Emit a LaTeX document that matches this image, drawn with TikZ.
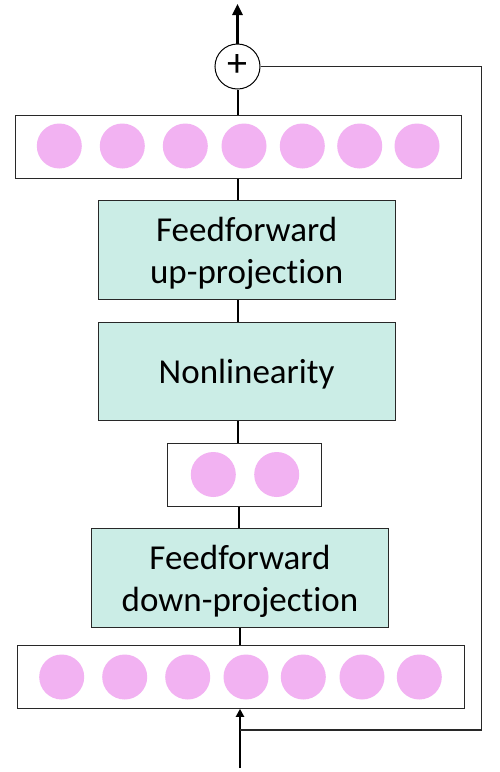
\documentclass[tikz,border=0pt]{standalone}
\usepackage{fontspec}
\setmainfont{Carlito}[Ligatures=NoCommon]
\usetikzlibrary{arrows.meta}
\definecolor{mint}{RGB}{203,237,230}
\definecolor{pinkdot}{RGB}{242,178,242}
\definecolor{edge}{RGB}{40,40,40}
\begin{document}
\begin{tikzpicture}[x=1pt,y=-1pt,
  layerbox/.style={draw=edge,line width=1pt,fill=white,inner sep=0pt},
  opbox/.style={draw=edge,line width=1pt,fill=mint,inner sep=0pt},
  optext/.style={inner sep=0pt,align=center,font=\fontsize{35}{42}\selectfont},
  dot/.style={circle,fill=pinkdot,minimum size=45pt,inner sep=0pt},
  link/.style={line width=2pt,black},
  resid/.style={line width=1.3pt,edge}
]
\useasboundingbox[fill=white] (0,0) rectangle (500,772);

% layers and operations
\node[layerbox,minimum width=446.7pt,minimum height=63pt] (top) at (238.35,146.5) {};
\node[opbox,minimum width=296.7pt,minimum height=98.6pt] (up) at (246.65,250) {};
\node[optext] (uptext) at ([yshift=-3.5pt]up.center) {Feedforward\\up-projection};
\node[opbox,minimum width=296.7pt,minimum height=98.4pt] (nl) at (246.65,371.5) {};
\node[optext] (nltext) at ([yshift=-3pt]nl.center) {Nonlinearity};
\node[layerbox,minimum width=153.3pt,minimum height=62.7pt] (mid) at (244.35,474.65) {};
\node[opbox,minimum width=296.6pt,minimum height=99.4pt] (down) at (240,578) {};
\node[optext] (downtext) at ([yshift=-3.5pt]down.center) {Feedforward\\down-projection};
\node[layerbox,minimum width=446.7pt,minimum height=62.6pt] (bot) at (240.65,677) {};

% dots
\foreach \x [count=\i] in {59.3,122.3,185.3,244,302.3,359.7,417}
  \node[dot] (t\i) at (\x,146) {};
\foreach \x [count=\i] in {213.3,276.7}
  \node[dot] (m\i) at (\x,474.5) {};
\foreach \x [count=\i] in {61.7,124.7,187.7,246,303.3,362,419.3}
  \node[dot] (b\i) at (\x,677) {};

% plus
\node[circle,draw=black,line width=1pt,minimum size=45pt,inner sep=0pt,fill=white] (plus) at (237.5,66.5) {};
\node[inner sep=0pt,font=\fontsize{40}{40}\selectfont] (plustext) at ([yshift=1pt]plus.center) {+};

% coordinates
\coordinate (out) at (237.5,4);
\coordinate (in) at (240,768);
\coordinate (rtop) at (481.7,66.5);
\coordinate (rbot) at (481.7,730);
\coordinate (rjoin) at (240,730);

% vertical links
\draw[link] (237.5,0 |- top.north) -- (plus.south);
\draw[link,-{Triangle[length=11pt,width=10pt]},line width=2.5pt] (plus.north) -- (out);
\draw[link] (237.7,0 |- up.north) -- (237.7,0 |- top.south);
\draw[link] (237.7,0 |- nl.north) -- (237.7,0 |- up.south);
\draw[link] (238.2,0 |- mid.north) -- (238.2,0 |- nl.south);
\draw[link] (239.3,0 |- down.north) -- (239.3,0 |- mid.south);
\draw[link] (239.8,0 |- bot.north) -- (239.8,0 |- down.south);
\draw[link,-{Triangle[length=8pt,width=8pt]}] (in) -- (240,0 |- bot.south);

% residual
\draw[resid] (plus.east) -- (rtop) -- (rbot) -- (rjoin);
\end{tikzpicture}
\end{document}
